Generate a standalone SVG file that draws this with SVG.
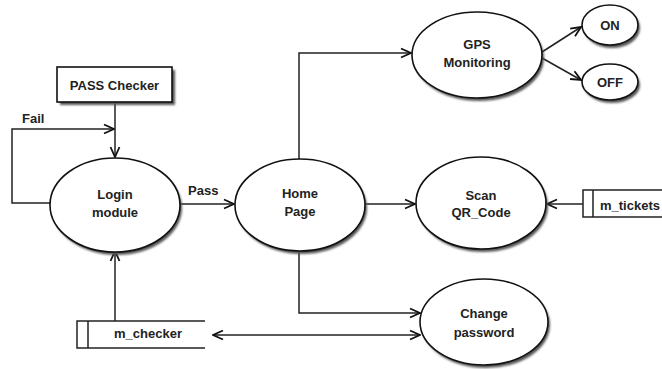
<svg xmlns="http://www.w3.org/2000/svg" width="662" height="369" viewBox="0 0 662 369">
  <style>
    .shape { fill: #fff; stroke: #111; stroke-width: 1.6; }
    .shadow { fill: #555; filter: url(#soft); }
    .txt { font-family: "Liberation Sans", Arial, sans-serif; font-weight: bold; font-size: 13px; fill: #222; text-anchor: middle; }
    .lbl { text-anchor: start; }
    .wire { fill: none; stroke: #222; stroke-width: 1.5; }
  </style>
  <defs>
    <filter id="soft" x="-10%" y="-10%" width="130%" height="130%">
      <feGaussianBlur stdDeviation="0.8"/>
    </filter>
    <marker id="arr" viewBox="0 0 12 12" refX="11" refY="6" markerWidth="12" markerHeight="12" markerUnits="userSpaceOnUse" orient="auto-start-reverse">
      <path d="M1,1.5 L11,6 L1,10.5" fill="none" stroke="#111" stroke-width="1.8"/>
    </marker>
  </defs>
  <rect width="662" height="369" fill="#fff"/>

  <!-- connectors -->
  <g id="connectors">
    <path class="wire" d="M115,102 V157" marker-end="url(#arr)"/>
    <path class="wire" d="M50,203 H12 V129 H114" marker-end="url(#arr)"/>
    <path class="wire" d="M180,204 H234" marker-end="url(#arr)"/>
    <path class="wire" d="M299,159 V53 H411" marker-end="url(#arr)"/>
    <path class="wire" d="M542,52 L581,27" marker-end="url(#arr)"/>
    <path class="wire" d="M542,58 L581,80" marker-end="url(#arr)"/>
    <path class="wire" d="M365,204 H415" marker-end="url(#arr)"/>
    <path class="wire" d="M583,204 H547" marker-end="url(#arr)"/>
    <path class="wire" d="M299,250 V313 H420" marker-end="url(#arr)"/>
    <path class="wire" d="M213,335 H420" marker-start="url(#arr)" marker-end="url(#arr)"/>
    <path class="wire" d="M115,321 V251" marker-end="url(#arr)"/>
  </g>

  <g id="pass-checker">
    <rect class="shadow" x="60" y="70" width="115" height="35"/>
    <rect class="shape" x="57" y="67" width="115" height="35"/>
    <text class="txt" x="114.5" y="90">PASS Checker</text>
  </g>

  <g id="login">
    <ellipse class="shadow" cx="117" cy="208" rx="65" ry="47"/>
    <ellipse class="shape" cx="115" cy="205" rx="65" ry="47"/>
    <text class="txt" x="115" y="199">Login</text>
    <text class="txt" x="115" y="217">module</text>
  </g>
  <text class="txt lbl" x="22" y="123">Fail</text>
  <text class="txt lbl" x="188" y="195">Pass</text>

  <g id="home">
    <ellipse class="shadow" cx="302" cy="208" rx="65" ry="46"/>
    <ellipse class="shape" cx="300" cy="205" rx="65" ry="46"/>
    <text class="txt" x="300" y="198">Home</text>
    <text class="txt" x="300" y="216">Page</text>
  </g>

  <g id="gps">
    <ellipse class="shadow" cx="479" cy="58" rx="65" ry="43"/>
    <ellipse class="shape" cx="477" cy="55" rx="65" ry="43"/>
    <text class="txt" x="477" y="49">GPS</text>
    <text class="txt" x="477" y="67">Monitoring</text>
  </g>

  <g id="on">
    <ellipse class="shadow" cx="612" cy="28" rx="28" ry="20"/>
    <ellipse class="shape" cx="610" cy="25" rx="28" ry="20"/>
    <text class="txt" x="610" y="30">ON</text>
  </g>

  <g id="off">
    <ellipse class="shadow" cx="612" cy="85" rx="28" ry="18"/>
    <ellipse class="shape" cx="610" cy="82" rx="28" ry="18"/>
    <text class="txt" x="610" y="87">OFF</text>
  </g>

  <g id="scan">
    <ellipse class="shadow" cx="483" cy="206" rx="65" ry="46"/>
    <ellipse class="shape" cx="481" cy="203" rx="65" ry="46"/>
    <text class="txt" x="481" y="200">Scan</text>
    <text class="txt" x="481" y="217">QR_Code</text>
  </g>

  <g id="m-tickets">
    <path class="wire" d="M665,190 H583 V217 H665 M593,190 V217" stroke="#111"/>
    <text class="txt lbl" x="600" y="210">m_tickets</text>
  </g>

  <g id="change-password">
    <ellipse class="shadow" cx="486" cy="325" rx="64" ry="43"/>
    <ellipse class="shape" cx="484" cy="322" rx="64" ry="43"/>
    <text class="txt" x="484" y="318">Change</text>
    <text class="txt" x="484" y="337">password</text>
  </g>

  <g id="m-checker">
    <path class="wire" d="M205,321 H77 V348 H205 M88,321 V348" stroke="#111"/>
    <text class="txt" x="148" y="338">m_checker</text>
  </g>
</svg>
